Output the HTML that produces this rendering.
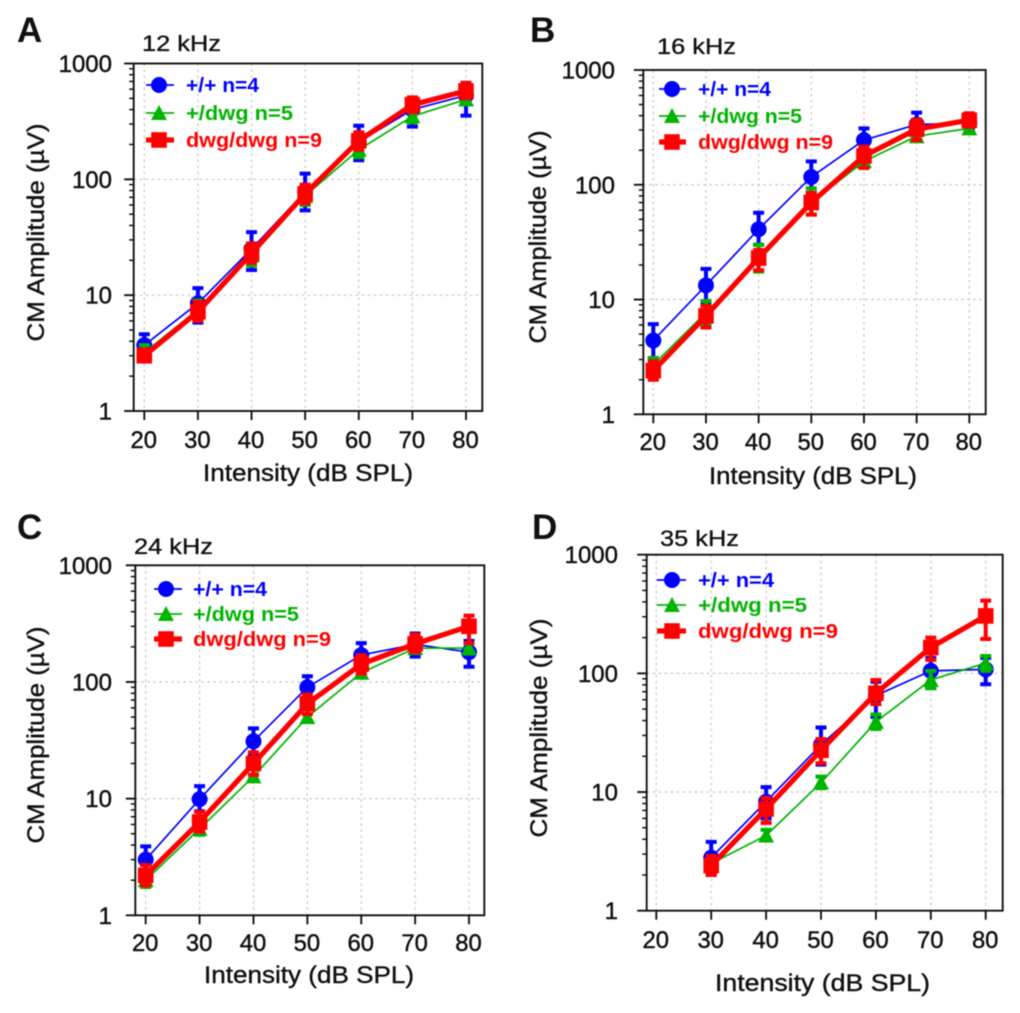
<!DOCTYPE html>
<html lang="en">
<head>
<meta charset="utf-8">
<title>CM Amplitude vs Intensity</title>
<style>
html,body{margin:0;padding:0;background:#fff;}
body{width:1020px;height:1013px;overflow:hidden;}
svg{display:block;filter:blur(0.45px);}
text{font-family:"Liberation Sans",sans-serif;}
</style>
</head>
<body>
<svg id="figure" xmlns="http://www.w3.org/2000/svg" width="1020" height="1013" viewBox="0 0 1020 1013"></svg>
<script>
const xTickLabels = [20, 30, 40, 50, 60, 70, 80];
const yTickLabels = [1, 10, 100, 1000];
const intensitiesFull = [20, 30, 40, 50, 60, 70, 80];
const intensitiesD = [30, 40, 50, 60, 70, 80];
const seriesLabels = ['+/+ n=4', '+/dwg n=5', 'dwg/dwg n=9'];

const aWtMean = [3.7, 8.5, 25, 78, 210, 400, 530];
const aWtHigh = [4.6, 11.5, 35, 112, 290, 500, 680];
const aWtLow = [3.0, 5.8, 16.5, 54, 146, 285, 355];
const aHetMean = [3.2, 7.5, 22, 72, 180, 350, 490];
const aHetHigh = [3.7, 9, 27, 88, 215, 400, 540];
const aHetLow = [2.8, 6.3, 18, 60, 155, 310, 445];
const aDwgMean = [3.0, 7.2, 23, 75, 215, 440, 580];
const aDwgHigh = [3.4, 8.8, 28, 90, 255, 510, 680];
const aDwgLow = [2.7, 6.0, 19, 62, 180, 380, 500];

const bWtMean = [4.4, 13.3, 41, 117, 245, 335, 345];
const bWtHigh = [6.1, 18.5, 57, 160, 310, 425, 400];
const bWtLow = [3.0, 9.5, 30, 85, 190, 270, 300];
const bHetMean = [2.7, 7.7, 23, 70, 160, 265, 310];
const bHetHigh = [3.1, 9.7, 30, 93, 210, 300, 330];
const bHetLow = [2.3, 6.0, 17.5, 55, 140, 240, 285];
const bDwgMean = [2.4, 7.2, 23, 70, 178, 305, 365];
const bDwgHigh = [2.9, 8.8, 27, 85, 215, 370, 420];
const bDwgLow = [2.0, 5.7, 18, 55, 140, 245, 320];

const cWtMean = [3.0, 9.9, 31, 90, 170, 210, 180];
const cWtHigh = [3.9, 12.8, 40, 112, 215, 260, 225];
const cWtLow = [2.4, 7.8, 24, 72, 130, 165, 135];
const cHetMean = [2.0, 5.5, 15.5, 50, 120, 195, 195];
const cHetHigh = [2.4, 7.0, 20, 62, 145, 215, 215];
const cHetLow = [1.75, 4.9, 14.5, 46, 112, 178, 175];
const cDwgMean = [2.2, 6.3, 20, 65, 142, 212, 300];
const cDwgHigh = [2.7, 7.7, 25, 78, 170, 255, 370];
const cDwgLow = [1.8, 5.2, 16, 53, 118, 180, 215];

const dWtMean = [2.8, 8.3, 25, 65, 105, 108];
const dWtHigh = [3.8, 11, 35, 85, 135, 135];
const dWtLow = [2.0, 6.0, 17, 43, 76, 81];
const dHetMean = [2.5, 4.3, 12, 39, 88, 122];
const dHetHigh = [2.8, 4.8, 13.5, 45, 105, 140];
const dHetLow = [2.3, 3.9, 10.8, 34, 75, 105];
const dDwgMean = [2.4, 7.2, 22.5, 68, 165, 305];
const dDwgHigh = [2.9, 8.9, 28, 88, 200, 410];
const dDwgLow = [2.0, 5.5, 17.5, 55, 130, 195];

const panelData = {
  A: {xs: intensitiesFull, title: '12 kHz', wt: [aWtMean, aWtHigh, aWtLow], het: [aHetMean, aHetHigh, aHetLow], dwg: [aDwgMean, aDwgHigh, aDwgLow]},
  B: {xs: intensitiesFull, title: '16 kHz', wt: [bWtMean, bWtHigh, bWtLow], het: [bHetMean, bHetHigh, bHetLow], dwg: [bDwgMean, bDwgHigh, bDwgLow]},
  C: {xs: intensitiesFull, title: '24 kHz', wt: [cWtMean, cWtHigh, cWtLow], het: [cHetMean, cHetHigh, cHetLow], dwg: [cDwgMean, cDwgHigh, cDwgLow]},
  D: {xs: intensitiesD, title: '35 kHz', wt: [dWtMean, dWtHigh, dWtLow], het: [dHetMean, dHetHigh, dHetLow], dwg: [dDwgMean, dDwgHigh, dDwgLow]}
};

const layouts = [
  {id: 'A', left: 133.7, right: 482.3, top: 63.5, bottom: 411, x20: 144.3, x80: 466,
   titleX: 142, titleY: 51, letterX: 17, letterY: 42, yTickX: 112, xTickY: 448,
   xTitleX: 308, xTitleY: 481, xTitleW: 210, yTitleX: 44, yTitleY: 232.5, yTitleW: 218,
   lgX1: 146, lgX2: 174, lgM: 159, lgT: 186, lgY: [85, 113, 140], lgW: [73, 107, 136]},
  {id: 'B', left: 643.3, right: 985.7, top: 70, bottom: 414.3, x20: 653.3, x80: 969.3,
   titleX: 657, titleY: 54, letterX: 530, letterY: 42, yTickX: 615, xTickY: 450,
   xTitleX: 813, xTitleY: 484, xTitleW: 208, yTitleX: 546, yTitleY: 237, yTitleW: 213,
   lgX1: 659, lgX2: 686, lgM: 672, lgT: 698, lgY: [89, 116, 142], lgW: [73, 104, 135]},
  {id: 'C', left: 135.3, right: 484.3, top: 565.3, bottom: 915.3, x20: 145.7, x80: 469,
   titleX: 134, titleY: 554, letterX: 17, letterY: 539, yTickX: 112, xTickY: 951,
   xTitleX: 309, xTitleY: 983, xTitleW: 210, yTitleX: 44, yTitleY: 735, yTitleW: 217,
   lgX1: 154, lgX2: 182, lgM: 166, lgT: 193, lgY: [589, 614, 639], lgW: [74, 106, 138]},
  {id: 'D', left: 646.7, right: 1002.7, top: 554.7, bottom: 910.7, x20: 656.3, x80: 985.7,
   titleX: 660, titleY: 546, letterX: 532, letterY: 539, yTickX: 618, xTickY: 948,
   xTitleX: 822.5, xTitleY: 991, xTitleW: 215, yTitleX: 547, yTitleY: 728, yTitleW: 219,
   lgX1: 657, lgX2: 686, lgM: 672, lgT: 698, lgY: [580, 605, 631], lgW: [76, 109, 140]}
];

const svg = document.getElementById('figure');
const NS = 'http://www.w3.org/2000/svg';

function make(tag, attrs, parent, content) {
  const node = document.createElementNS(NS, tag);
  for (const k in attrs) node.setAttribute(k, attrs[k]);
  if (content !== undefined) node.textContent = content;
  parent.appendChild(node);
  return node;
}

function drawMarker(kind, cx, cy, color, parent) {
  let m;
  if (kind === 'wt') {
    m = make('circle', {cx: cx, cy: cy, r: 8, fill: color}, parent);
  } else if (kind === 'het') {
    m = make('polygon', {points: (cx - 8) + ',' + (cy + 7) + ' ' + (cx + 8) + ',' + (cy + 7) + ' ' + cx + ',' + (cy - 8), fill: color}, parent);
  } else {
    m = make('rect', {x: cx - 7.8, y: cy - 7.8, width: 15.6, height: 15.6, fill: color}, parent);
  }
  return m;
}

const seriesStyles = [
  {key: 'wt', color: '#0000ff', width: 1.7, name: 'wild-type'},
  {key: 'het', color: '#00b400', width: 1.7, name: 'heterozygous'},
  {key: 'dwg', color: '#ff0000', width: 5.2, name: 'dwg-homozygous'}
];

layouts.forEach(function (L) {
  const data = panelData[L.id];
  const low = L.id.toLowerCase();
  const xScale = function (v) { return L.x20 + (v - 20) * (L.x80 - L.x20) / 60; };
  const yScale = function (v) { return L.bottom - Math.log10(v) * (L.bottom - L.top) / 3; };

  const g = make('g', {}, svg);
  
  

  const letter = make('text', {x: L.letterX, y: L.letterY, 'font-size': 35, 'font-weight': 'bold', fill: '#111'}, g, L.id);
  
  

  const title = make('text', {x: L.titleX, y: L.titleY, 'font-size': 22, fill: '#111', stroke: '#111', 'stroke-width': 0.35, textLength: 79, lengthAdjust: 'spacingAndGlyphs'}, g, data.title);
  
  

  // gridlines
  xTickLabels.forEach(function (t) {
    const line = make('line', {x1: xScale(t), x2: xScale(t), y1: L.top, y2: L.bottom, stroke: '#c4c4c4', 'stroke-width': 1.2, 'stroke-dasharray': '2.5 3.5'}, g);
    
    
  });
  yTickLabels.slice(1, 3).forEach(function (t) {
    const line = make('line', {x1: L.left, x2: L.right, y1: yScale(t), y2: yScale(t), stroke: '#c4c4c4', 'stroke-width': 1.2, 'stroke-dasharray': '2.5 3.5'}, g);
    
    
  });

  // frame
  const frame = make('rect', {x: L.left, y: L.top, width: L.right - L.left, height: L.bottom - L.top, fill: 'none', stroke: '#111', 'stroke-width': 1.9}, g);
  
  

  // y ticks
  yTickLabels.forEach(function (t) {
    const tick = make('line', {x1: L.left - 9.5, x2: L.left, y1: yScale(t), y2: yScale(t), stroke: '#111', 'stroke-width': 1.9}, g);
    
    
    const lab = make('text', {x: L.yTickX, y: yScale(t) + 8.5, 'font-size': 24, 'text-anchor': 'end', fill: '#111', stroke: '#111', 'stroke-width': 0.45}, g, t);
    
    
    if (t < 1000) {
      [2, 3, 4, 5, 6, 7, 8, 9].forEach(function (k) {
        const minor = make('line', {x1: L.left - 4.5, x2: L.left, y1: yScale(t * k), y2: yScale(t * k), stroke: '#111', 'stroke-width': 1.5}, g);
        
        
      });
    }
  });

  // x ticks
  xTickLabels.forEach(function (t) {
    const tick = make('line', {x1: xScale(t), x2: xScale(t), y1: L.bottom, y2: L.bottom + 9, stroke: '#111', 'stroke-width': 1.9}, g);
    
    
    const lab = make('text', {x: xScale(t) - 0.5, y: L.xTickY, 'font-size': 24, 'text-anchor': 'middle', fill: '#111', stroke: '#111', 'stroke-width': 0.45, textLength: 26.5, lengthAdjust: 'spacingAndGlyphs'}, g, t);
    
    
  });

  // axis titles
  const xTitle = make('text', {x: L.xTitleX, y: L.xTitleY, 'font-size': 24, 'text-anchor': 'middle', fill: '#111', stroke: '#111', 'stroke-width': 0.4, textLength: L.xTitleW, lengthAdjust: 'spacingAndGlyphs'}, g, 'Intensity (dB SPL)');
  
  

  const yTitle = make('text', {x: 0, y: 0, transform: 'translate(' + L.yTitleX + ',' + L.yTitleY + ') rotate(-90)', 'font-size': 24, 'text-anchor': 'middle', fill: '#111', stroke: '#111', 'stroke-width': 0.4, textLength: L.yTitleW, lengthAdjust: 'spacingAndGlyphs'}, g, 'CM Amplitude (\u00b5V)');
  
  

  // series
  seriesStyles.forEach(function (S) {
    const arrs = data[S.key];
    const means = arrs[0], highs = arrs[1], lows = arrs[2];
    const sg = make('g', {}, g);
    
    

    const pts = data.xs.map(function (x, i) { return xScale(x) + ',' + yScale(means[i]); }).join(' ');
    const path = make('polyline', {points: pts, fill: 'none', stroke: S.color, 'stroke-width': S.width, 'stroke-linejoin': 'round'}, sg);
    
    

    data.xs.forEach(function (x, i) {
      const px = xScale(x);
      const yHi = yScale(highs[i]);
      const yLo = yScale(lows[i]);
      const bar = make('path', {d: 'M' + (px - 5.5) + ' ' + yHi + 'H' + (px + 5.5) + 'M' + px + ' ' + yHi + 'V' + yLo + 'M' + (px - 5.5) + ' ' + yLo + 'H' + (px + 5.5), fill: 'none', stroke: S.color, 'stroke-width': 4}, sg);
      
      
      const marker = drawMarker(S.key, px, yScale(means[i]), S.color, sg);
      
      
    });
  });

  // legend
  const lg = make('g', {}, g);
  
  
  seriesStyles.forEach(function (S, i) {
    const ly = L.lgY[i];
    const entry = make('g', {}, lg);
    
    
    const line = make('line', {x1: L.lgX1, x2: L.lgX2, y1: ly, y2: ly, stroke: S.color, 'stroke-width': S.width}, entry);
    
    
    const mk = drawMarker(S.key, L.lgM, ly, S.color, entry);
    
    
    const tx = make('text', {x: L.lgT, y: ly + 7, 'font-size': 20, 'font-weight': 'bold', fill: S.color, textLength: L.lgW[i], lengthAdjust: 'spacingAndGlyphs'}, entry, seriesLabels[i]);
    
    
  });
});
</script>
</body>
</html>
